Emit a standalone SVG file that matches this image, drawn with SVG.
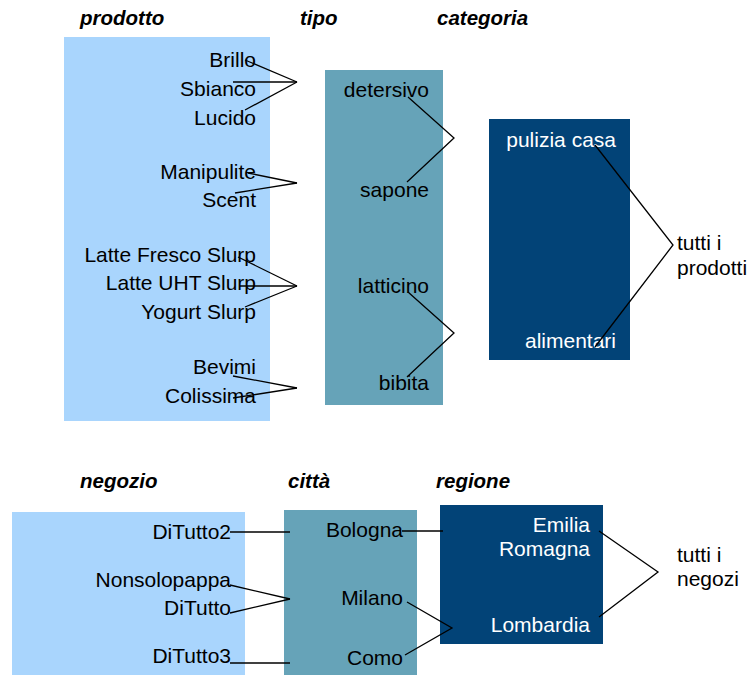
<svg xmlns="http://www.w3.org/2000/svg" width="750" height="675" viewBox="0 0 750 675">
<style>
text{font-family:"Liberation Sans",Arial,Helvetica,sans-serif;font-size:21px;fill:#000}
.h{font-weight:bold;font-style:italic;font-size:20.5px}
.r{text-anchor:end}
.w{fill:#fff}
.b1{fill:#A9D5FD}
.b2{fill:#66A3B8}
.b3{fill:#024377}
#connectors polyline,#connectors line{fill:none;stroke:#000;stroke-width:1.3}
</style>
<rect width="750" height="675" fill="#fff"/>
<g id="headers">
<text class="h" x="80" y="25">prodotto</text>
<text class="h" x="300" y="25">tipo</text>
<text class="h" x="437" y="25">categoria</text>
<text class="h" x="80" y="488">negozio</text>
<text class="h" x="288" y="488">città</text>
<text class="h" x="436" y="488">regione</text>
</g>
<g id="prodotto">
<rect class="b1" x="64" y="37" width="206" height="384"/>
<text class="r" x="256" y="67">Brillo</text>
<text class="r" x="256" y="96">Sbianco</text>
<text class="r" x="256" y="125">Lucido</text>
<text class="r" x="256" y="179">Manipulite</text>
<text class="r" x="256" y="207">Scent</text>
<text class="r" x="256" y="262">Latte Fresco Slurp</text>
<text class="r" x="256" y="290">Latte UHT Slurp</text>
<text class="r" x="256" y="319">Yogurt Slurp</text>
<text class="r" x="256" y="374">Bevimi</text>
<text class="r" x="256" y="403">Colissima</text>
</g>
<g id="tipo">
<rect class="b2" x="325" y="70" width="118" height="335"/>
<text class="r" x="429" y="97">detersivo</text>
<text class="r" x="429" y="197">sapone</text>
<text class="r" x="429" y="293">latticino</text>
<text class="r" x="429" y="390">bibita</text>
</g>
<g id="categoria">
<rect class="b3" x="489" y="119" width="141" height="241"/>
<text class="r w" x="616" y="147">pulizia casa</text>
<text class="r w" x="616" y="348">alimentari</text>
</g>
<g id="tutti-prodotti">
<text x="677" y="250">tutti i</text>
<text x="677" y="275">prodotti</text>
</g>
<g id="negozio">
<rect class="b1" x="12" y="512" width="233" height="170"/>
<text class="r" x="231" y="539">DiTutto2</text>
<text class="r" x="231" y="587">Nonsolopappa</text>
<text class="r" x="231" y="615">DiTutto</text>
<text class="r" x="231" y="663">DiTutto3</text>
</g>
<g id="citta">
<rect class="b2" x="284" y="510" width="133" height="172"/>
<text class="r" x="403" y="537">Bologna</text>
<text class="r" x="403" y="605">Milano</text>
<text class="r" x="403" y="665">Como</text>
</g>
<g id="regione">
<rect class="b3" x="440" y="505" width="163" height="139"/>
<text class="r w" x="590" y="532">Emilia</text>
<text class="r w" x="590" y="556">Romagna</text>
<text class="r w" x="590" y="632">Lombardia</text>
</g>
<g id="tutti-negozi">
<text x="677" y="562">tutti i</text>
<text x="677" y="586">negozi</text>
</g>
<g id="connectors">
<line x1="245" y1="60" x2="297" y2="82"/>
<line x1="233" y1="82" x2="297" y2="82"/>
<line x1="245" y1="110" x2="297" y2="82"/>
<line x1="248" y1="173" x2="297" y2="183"/>
<line x1="235" y1="193" x2="297" y2="183"/>
<line x1="238" y1="257" x2="297" y2="286"/>
<line x1="240" y1="286" x2="297" y2="286"/>
<line x1="245" y1="307" x2="297" y2="286"/>
<line x1="233" y1="376" x2="297" y2="388"/>
<line x1="233" y1="398" x2="297" y2="388"/>
<polyline points="408,97 454,138 407,182"/>
<polyline points="408,292 454,333 407,377"/>
<polyline points="595,145 673,245 595,347"/>
<line x1="230" y1="532" x2="290" y2="532"/>
<line x1="230" y1="585" x2="290" y2="599"/>
<line x1="230" y1="613" x2="290" y2="599"/>
<line x1="230" y1="663" x2="290" y2="663"/>
<line x1="402" y1="531" x2="443" y2="531"/>
<polyline points="407,602 452,628 405,655"/>
<polyline points="599,531 658,572 599,617"/>
</g>
</svg>
